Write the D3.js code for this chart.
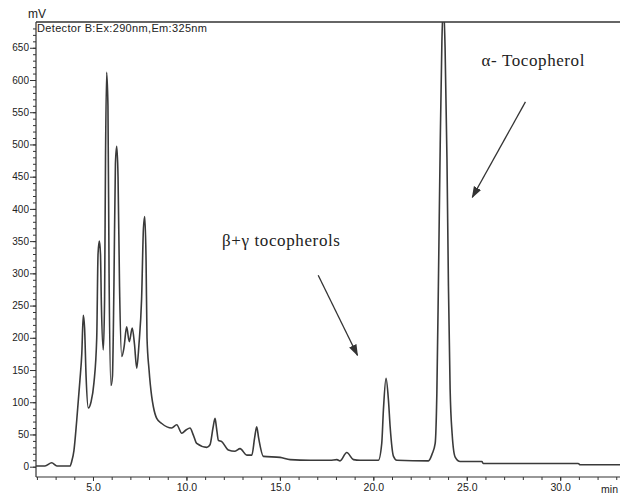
<!DOCTYPE html>
<html>
<head>
<meta charset="utf-8">
<script src="https://cdn.jsdelivr.net/npm/d3@7"></script>
<style>
  body { margin: 0; background: #fff; }
  svg { display: block; }
</style>
</head>
<body>
<svg width="620" height="495"></svg>
<script>
// Retention times (min) and detector signal (mV)
const times = [1.95, 2.43, 2.79, 3.07, 3.77, 3.86, 3.98, 4.13, 4.30, 4.40, 4.48, 4.55, 4.63, 4.75, 4.89,
  5.05, 5.20, 5.27, 5.34, 5.40, 5.45, 5.55, 5.62, 5.67, 5.73, 5.80, 5.86, 5.96, 6.04, 6.12, 6.20, 6.27,
  6.34, 6.42, 6.54, 6.66, 6.80, 6.94, 7.10, 7.22, 7.34, 7.46, 7.60, 7.70, 7.77, 7.84, 7.89, 8.00, 8.14,
  8.23, 8.41, 8.68, 9.21, 9.48, 9.75, 9.98, 10.19, 10.37, 10.55, 11.09, 11.26, 11.42, 11.53, 11.61, 11.71,
  11.89, 12.24, 12.60, 12.87, 13.23, 13.50, 13.65, 13.76, 13.86, 14.12, 15.01, 15.55, 16.62, 17.69, 18.05,
  18.22, 18.58, 18.94, 19.29, 20.27, 20.45, 20.54, 20.68, 20.81, 20.90, 21.08, 21.26, 22.95, 23.15, 23.31,
  23.40, 23.49, 23.58, 23.67, 23.75, 23.84, 23.94, 24.02, 24.11, 24.22, 24.38, 24.65, 25.81, 25.88, 30.96,
  31.07, 33.2];
const signal = [1, 1, 6, 1, 1, 8, 25, 72, 134, 175, 235, 215, 140, 91, 100,
  130, 200, 330, 350, 330, 250, 181, 260, 480, 612, 560, 300, 126, 140, 280, 470, 497,
  450, 280, 171, 185, 217, 194, 215, 190, 153, 190, 260, 370, 388, 320, 200, 150, 109,
  93, 75, 67, 60, 65, 52, 57, 60, 49, 36, 30, 34, 60, 75, 60, 41,
  39, 26, 24, 28, 18, 18, 45, 62, 45, 16, 14.5, 11, 10, 10, 11,
  9, 22, 11, 10, 10, 36, 88, 137, 103, 62, 16, 10, 9, 20, 36,
  114, 300, 500, 660, 720, 650, 480, 280, 120, 50, 15, 8, 8, 5, 5,
  3, 3];

const yMajorTicks = [0, 50, 100, 150, 200, 250, 300, 350, 400, 450, 500, 550, 600, 650];
const xMajorTicks = [5, 10, 15, 20, 25, 30];
const yUnit = "mV";
const xUnit = "min";
const detectorLabel = "Detector B:Ex:290nm,Em:325nm";
const alphaLabel = "\u03b1- Tocopherol";
const betaLabel = "\u03b2+\u03b3 tocopherols";

const svg = d3.select("svg");
const plotLeft = 36, plotRight = 620, plotTop = 22, plotBottom = 477;

const x = d3.scaleLinear().domain([1.95, 33.2]).range([plotLeft, plotRight]);
const y = d3.scaleLinear().domain([-16, 690]).range([plotBottom, plotTop]);

const font = "'Liberation Sans', Arial, sans-serif";
const ink = "#333";

// clip for the trace
svg.append("clipPath").attr("id", "plot")
  .append("rect").attr("x", plotLeft).attr("y", plotTop)
  .attr("width", plotRight - plotLeft).attr("height", plotBottom - plotTop);

// Y axis with minor ticks every 10
const yMinor = d3.range(0, 690, 10);
svg.append("g")
  .attr("transform", `translate(${plotLeft},0)`)
  .call(d3.axisLeft(y).tickValues(yMinor).tickSize(3).tickFormat(""))
  .call(g => g.select(".domain").remove())
  .selectAll("line").attr("stroke", ink);
const yAx = svg.append("g")
  .attr("transform", `translate(${plotLeft},0)`)
  .call(d3.axisLeft(y).tickValues(yMajorTicks).tickSize(6).tickPadding(1));
yAx.select(".domain").remove();
yAx.selectAll("line").attr("stroke", ink);
yAx.selectAll("text").attr("font-family", font).attr("font-size", 10).attr("fill", "#222");

// X axis with minor ticks every 1 min
svg.append("g")
  .attr("transform", `translate(0,${plotBottom})`)
  .call(d3.axisBottom(x).tickValues(d3.range(2, 34, 1)).tickSize(3).tickFormat(""))
  .call(g => g.select(".domain").remove())
  .selectAll("line").attr("stroke", ink);
const xAx = svg.append("g")
  .attr("transform", `translate(0,${plotBottom})`)
  .call(d3.axisBottom(x).tickValues(xMajorTicks).tickSize(4).tickPadding(3).tickFormat(d3.format(".1f")));
xAx.select(".domain").remove();
xAx.selectAll("line").attr("stroke", ink);
xAx.selectAll("text").attr("font-family", font).attr("font-size", 10.5).attr("fill", "#222");

// frame lines
svg.append("line").attr("x1", plotLeft).attr("x2", plotRight).attr("y1", plotBottom).attr("y2", plotBottom)
  .attr("stroke", ink).attr("stroke-width", 1.2);
svg.append("line").attr("x1", plotLeft).attr("x2", plotLeft).attr("y1", plotTop).attr("y2", plotBottom)
  .attr("stroke", ink).attr("stroke-width", 1.2);
svg.append("line").attr("x1", plotLeft).attr("x2", plotRight).attr("y1", plotTop).attr("y2", plotTop)
  .attr("stroke", ink).attr("stroke-width", 1.5);

// unit labels
svg.append("text").attr("x", plotLeft - 8).attr("y", plotTop - 4)
  .attr("font-family", font).attr("font-size", 12).attr("fill", "#222").text(yUnit);
svg.append("text").attr("x", plotRight - 2).attr("y", plotBottom + 16).attr("text-anchor", "end")
  .attr("font-family", font).attr("font-size", 10.5).attr("fill", "#222").text(xUnit);
svg.append("text").attr("x", plotLeft + 1).attr("y", plotTop + 10)
  .attr("font-family", font).attr("font-size", 11).attr("textLength", 170).attr("fill", "#222")
  .text(detectorLabel);

// chromatogram trace
const pts = times.map((t, i) => [t, signal[i]]);
svg.append("path")
  .datum(pts)
  .attr("clip-path", "url(#plot)")
  .attr("fill", "none")
  .attr("stroke", "#3a3a3a")
  .attr("stroke-width", 1.6)
  .attr("stroke-linejoin", "round")
  .attr("d", d3.line().x(d => x(d[0])).y(d => y(d[1])).curve(d3.curveMonotoneX));

// arrow marker
svg.append("defs").append("marker")
  .attr("id", "arrow").attr("viewBox", "0 0 10 10").attr("refX", 9).attr("refY", 5)
  .attr("markerWidth", 9).attr("markerHeight", 9).attr("orient", "auto")
  .append("path").attr("d", "M0,1.5 L10,5 L0,8.5 Z").attr("fill", ink);

// annotations (placed in data units)
const serif = "'Liberation Serif', 'Times New Roman', serif";
svg.append("text").attr("x", x(28.54)).attr("y", y(622))
  .attr("text-anchor", "middle").attr("font-family", serif).attr("font-size", 17)
  .attr("textLength", 103).attr("fill", "#222")
  .text(alphaLabel);
svg.append("line")
  .attr("x1", x(28.14)).attr("y1", y(566)).attr("x2", x(25.3)).attr("y2", y(418))
  .attr("stroke", ink).attr("stroke-width", 1.3).attr("marker-end", "url(#arrow)");

svg.append("text").attr("x", x(15.06)).attr("y", y(342))
  .attr("text-anchor", "middle").attr("font-family", serif).attr("font-size", 17)
  .attr("textLength", 118).attr("fill", "#222")
  .text(betaLabel);
svg.append("line")
  .attr("x1", x(17.05)).attr("y1", y(297)).attr("x2", x(19.15)).attr("y2", y(173))
  .attr("stroke", ink).attr("stroke-width", 1.3).attr("marker-end", "url(#arrow)");
</script>
</body>
</html>
